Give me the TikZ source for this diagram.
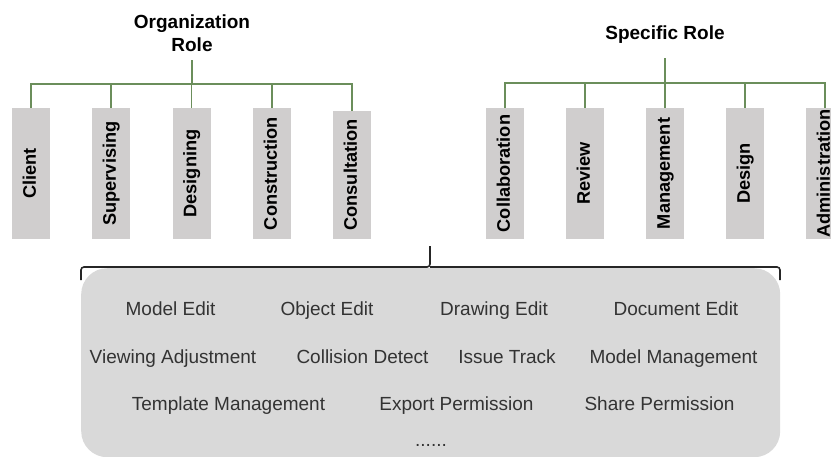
\documentclass[tikz,border=0pt]{standalone}
\usepackage{fontspec}
\setmainfont{Liberation Sans}
\definecolor{boxgray}{HTML}{D0CECE}
\definecolor{panelgray}{HTML}{D9D9D9}
\definecolor{linkgreen}{HTML}{6B8E5B}
\definecolor{bracedark}{HTML}{262626}
\definecolor{permtext}{HTML}{333333}
\begin{document}
\begin{tikzpicture}[x=1pt,y=-1pt,
  rolebox/.style={fill=boxgray, rotate=90, minimum width=131pt, minimum height=38pt,
    inner sep=0pt, font=\fontsize{18.2}{20}\selectfont\bfseries,
    text height=13pt, text depth=3.5pt},
  title/.style={anchor=north, inner sep=0pt, align=center,
    font=\fontsize{19}{22.5}\selectfont\bfseries},
  link/.style={draw=linkgreen, line width=1.3pt},
  brace/.style={draw=bracedark, line width=1.6pt, rounded corners=3pt},
  perm/.style={anchor=base, inner sep=0pt, text=permtext,
    font=\fontsize{19}{22}\selectfont}
]
\useasboundingbox (0,0) rectangle (831,456);

% ---- organization roles ----
\node[title] (org) at (192,15) {Organization\\Role};
\coordinate (orgtop) at (192,60);
\coordinate (orgbus) at (192,84);
\node[rolebox] (client)       at (31,173.5)  {Client};
\node[rolebox] (supervising)  at (111,173.5) {Supervising};
\node[rolebox] (designing)    at (191.5,173.5) {Designing};
\node[rolebox] (construction) at (272,173.5) {Construction};
\node[rolebox, minimum width=128pt] (consultation) at (352,175) {Consultation};

\draw[link] (orgtop) -- (orgbus);
\foreach \b in {client,supervising,designing,construction,consultation}
  \draw[link] (orgbus) -| (\b.east);

% ---- specific roles ----
\node[title] (spec) at (665,26) {Specific Role};
\coordinate (spectop) at (665,58);
\coordinate (specbus) at (665,83);
\node[rolebox] (collab) at (505,173.5) {Collaboration};
\node[rolebox] (review) at (585,173.5) {Review};
\node[rolebox] (manage) at (665,173.5) {Management};
\node[rolebox] (design) at (745,173.5) {Design};
\node[rolebox] (admin)  at (825,173.5) {Administration};

\draw[link] (spectop) -- (specbus);
\foreach \b in {collab,review,manage,design,admin}
  \draw[link] (specbus) -| (\b.east);

% ---- permission panel ----
\node[fill=panelgray, rounded corners=26pt, minimum width=699pt, minimum height=189pt,
  inner sep=0pt, anchor=north west] (perms) at (81,268) {};

\coordinate (tip) at (430,246);
\coordinate (bl) at (81,280);
\coordinate (br) at (780,280);
\draw[brace] (bl) -- (81,267) -- (430,267) -- (tip);
\draw[brace] (br) -- (780,267) -- (430,267);

\node[perm] (p1)  at (170.5,315) {Model Edit};
\node[perm] (p2)  at (327,315)   {Object Edit};
\node[perm] (p3)  at (494,315)   {Drawing Edit};
\node[perm] (p4)  at (676,315)   {Document Edit};
\node[perm] (p5)  at (173,363)   {Viewing Adjustment};
\node[perm] (p6)  at (362.5,363) {Collision Detect};
\node[perm] (p7)  at (507,363)   {Issue Track};
\node[perm] (p8)  at (673.5,363) {Model Management};
\node[perm] (p9)  at (228.5,410) {Template Management};
\node[perm] (p10) at (456.5,410) {Export Permission};
\node[perm] (p11) at (659.5,410) {Share Permission};
\node[perm] (more) at (431,446) {......};
\end{tikzpicture}
\end{document}
